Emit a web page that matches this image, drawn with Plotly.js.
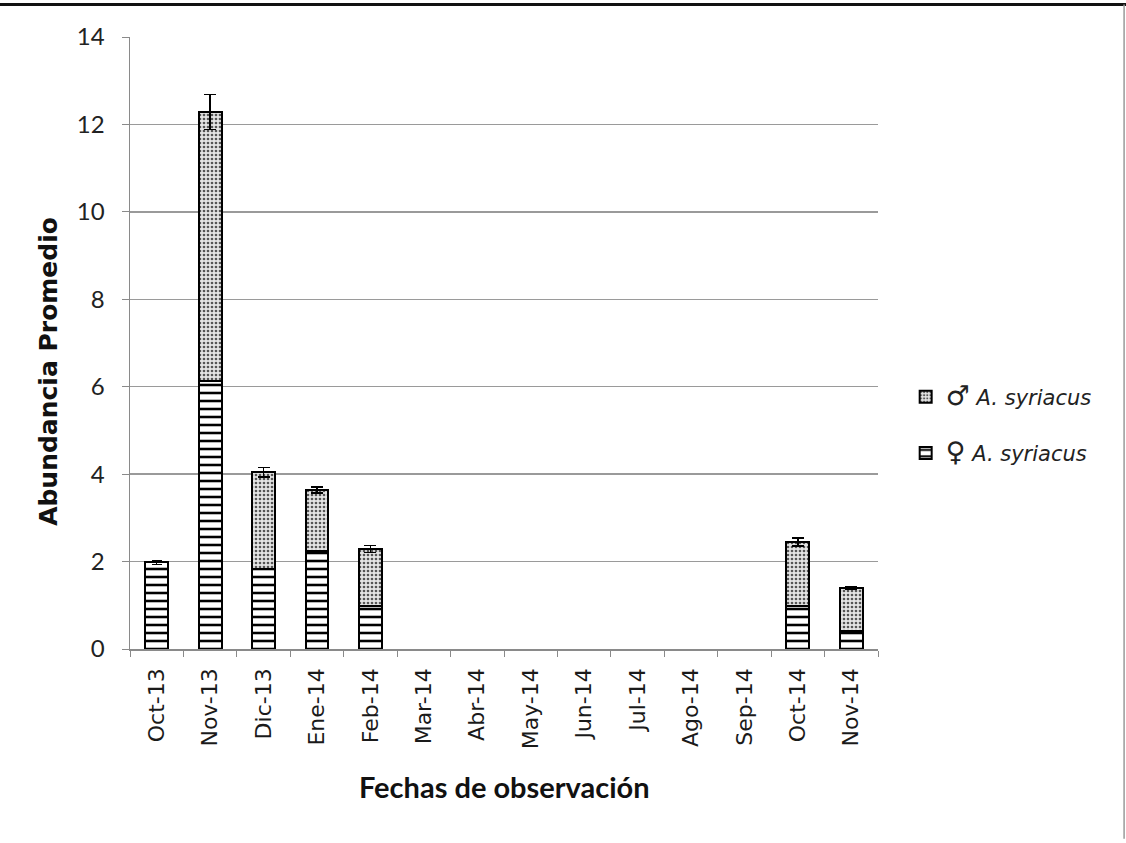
<!DOCTYPE html>
<html>
<head>
<meta charset="utf-8">
<script src="https://cdn.plot.ly/plotly-3.0.1.min.js"></script>
<style>html,body{margin:0;padding:0;background:#fff;}#chart{width:1126px;height:843px;}</style>
</head>
<body>
<div id="chart"></div>
<script>
const months = ["Oct-13","Nov-13","Dic-13","Ene-14","Feb-14","Mar-14","Abr-14","May-14","Jun-14","Jul-14","Ago-14","Sep-14","Oct-14","Nov-14"];
const hembras = [1.98, 6.12, 1.82, 2.25, 0.99, null, null, null, null, null, null, null, 0.99, 0.41];
const machos  = [null, 6.16, 2.22, 1.39, 1.30, null, null, null, null, null, null, null, 1.46, 0.99];
const errHembras = [0.05, 0, 0, 0, 0, 0, 0, 0, 0, 0, 0, 0, 0, 0];
const errMachos  = [0, 0.40, 0.11, 0.07, 0.08, 0, 0, 0, 0, 0, 0, 0, 0.09, 0.03];
const yTicks = [0, 2, 4, 6, 8, 10, 12, 14];

const font = "Lato, 'Open Sans', sans-serif";
const wide = "'DejaVu Sans', Verdana, sans-serif";

const traces = [
  {
    type: "bar", x: months, y: hembras, name: "<span style='font-size:27px'>♀</span> <i>A. syriacus</i>", legendgroup: "f", legendrank: 2,
    marker: {color: "#ffffff", line: {color: "#000", width: 2},
      pattern: {shape: "-", fgcolor: "#000", bgcolor: "#fff", size: 8, solidity: 0.32}},
    error_y: {type: "data", array: errHembras, visible: true, color: "#000", thickness: 1.5, width: 5}
  },
  {
    type: "bar", x: months, y: machos, name: "<span style='font-size:27px'>♂</span> <i>A. syriacus</i>", legendgroup: "m", legendrank: 1,
    marker: {color: "#e0e0e0", line: {color: "#000", width: 2},
      pattern: {shape: ".", fgcolor: "#555", bgcolor: "#e4e4e4", size: 4, solidity: 0.35}},
    error_y: {type: "data", array: errMachos, visible: true, color: "#000", thickness: 1.5, width: 6}
  }
];

const layout = {
  width: 1126, height: 843,
  paper_bgcolor: "#fff", plot_bgcolor: "#fff",
  margin: {l: 130, r: 248, t: 37, b: 194},
  barmode: "stack", bargap: 0.57,
  font: {family: font, color: "#222"},
  showlegend: true,
  legend: {x: 1.037, y: 0.445, xanchor: "left", yanchor: "top", traceorder: "grouped",
    tracegroupgap: 26, font: {size: 21, color: "#222", family: wide}, itemwidth: 30},
  xaxis: {
    type: "category", categoryorder: "array", categoryarray: months,
    tickangle: -90, tickfont: {size: 22, color: "#1a1a1a", family: wide},
    showline: true, linecolor: "#8a8a8a", linewidth: 1.5,
    ticks: "outside", tickson: "boundaries", ticklen: 6, tickcolor: "#8a8a8a",
    ticklabelstandoff: 9,
    showgrid: false, automargin: false, range: [-0.5, 13.5]
  },
  yaxis: {
    range: [0, 14], tickvals: yTicks, ticktext: yTicks.map(String),
    tickfont: {size: 24, color: "#222", family: font},
    showline: true, linecolor: "#8a8a8a", linewidth: 1.5,
    ticks: "outside", ticklen: 7, tickcolor: "#8a8a8a",
    ticklabelstandoff: 12,
    showgrid: true, gridcolor: "#9a9a9a", gridwidth: 1.5,
    zeroline: false, automargin: false
  },
  annotations: [
    {text: "<b>Abundancia Promedio</b>", xref: "paper", yref: "paper", x: -0.11, y: 0.454,
      xanchor: "center", yanchor: "middle", textangle: -90, showarrow: false,
      font: {size: 25, color: "#111", family: wide}},
    {text: "<b>Fechas de observación</b>", xref: "paper", yref: "paper", x: 0.5, y: -0.225,
      xanchor: "center", yanchor: "middle", showarrow: false,
      font: {size: 29, color: "#111", family: font}}
  ],
  shapes: [
    {type: "line", xref: "paper", yref: "paper", x0: -0.18, x1: 1.34, y0: 1.053, y1: 1.053,
      line: {color: "#111", width: 3}},
    {type: "line", xref: "paper", yref: "paper", x0: 1.329, x1: 1.329, y0: 1.053, y1: -0.31,
      line: {color: "#999", width: 1.5}}
  ]
};

Plotly.newPlot("chart", traces, layout, {displayModeBar: false, staticPlot: true});
</script>
</body>
</html>
